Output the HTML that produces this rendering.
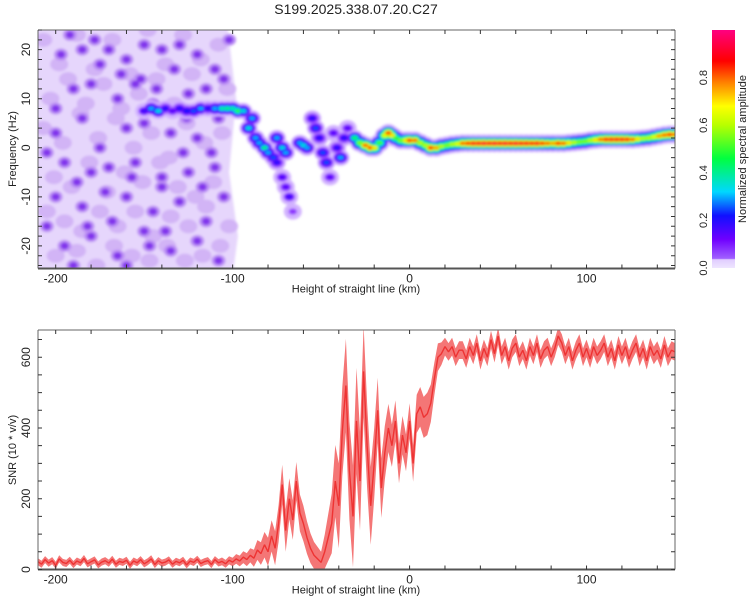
<!DOCTYPE html>
<html><head><meta charset="utf-8">
<style>
body{margin:0;background:#fff;}
svg text{font-family:"Liberation Sans",sans-serif;fill:#222;}
</style></head>
<body>
<svg id="chart" width="750" height="600" viewBox="0 0 750 600">
<defs>
<linearGradient id="cbar" x1="0" y1="1" x2="0" y2="0">
<stop offset="0" stop-color="#efe6ff"/><stop offset="0.035" stop-color="#e0ccff"/><stop offset="0.04" stop-color="#a060ff"/>
<stop offset="0.12" stop-color="#7000ff"/><stop offset="0.22" stop-color="#1010ff"/><stop offset="0.32" stop-color="#00d8ff"/>
<stop offset="0.46" stop-color="#00ff40"/><stop offset="0.6" stop-color="#b8ff00"/><stop offset="0.68" stop-color="#ffff00"/>
<stop offset="0.78" stop-color="#ff8000"/><stop offset="0.87" stop-color="#ff0000"/><stop offset="1" stop-color="#ff0080"/>
</linearGradient>
<clipPath id="clipTop"><rect x="38" y="30" width="637" height="239"/></clipPath>
<clipPath id="clipBot"><rect x="38" y="330" width="637" height="240"/></clipPath>
<filter id="soft" x="-5%" y="-5%" width="110%" height="110%"><feGaussianBlur stdDeviation="1.2"/></filter>
</defs>
<text x="356" y="14" font-size="14" text-anchor="middle">S199.2025.338.07.20.C27</text>
<g id="top"></g>
<g id="bot"></g>
<g id="cb">
<rect x="712" y="30" width="23" height="238" fill="url(#cbar)"/>
<text transform="translate(746,149) rotate(-90)" font-size="11" text-anchor="middle">Normalized spectral amplitude</text>
</g>
</svg>
<script>
// ---- data ----
const kmMin=-210, kmMax=150;
const freqMin=-24.6, freqMax=24;
const snrMin=0, snrMax=677;
const xTicks=[-200,-100,0,100];
const freqTicks=[-20,-10,0,10,20];
const snrTicks=[0,200,400,600];
const cbTicks=[0.0,0.2,0.4,0.6,0.8];
const snrStartKm=-210, snrStepKm=2;
const snrValues=[22,15,28,18,25,12,30,20,17,26,
14,24,19,31,16,22,27,13,21,25,
18,29,15,23,20,26,12,24,19,28,
16,22,30,14,25,18,21,27,15,23,
19,26,13,24,20,29,17,22,25,14,
28,19,23,16,26,21,30,24,35,28,
40,32,55,45,70,50,95,60,130,240,
110,200,140,250,160,130,90,60,40,30,
20,50,90,130,250,180,390,520,280,150,
420,250,560,350,180,300,450,230,330,400,
350,420,300,380,330,420,300,440,460,430,
440,470,540,600,610,630,615,630,600,620,
620,595,630,605,640,590,625,600,650,610,
660,605,630,590,625,640,600,620,590,630,
605,640,595,620,630,600,625,660,640,605,
630,590,620,640,600,625,595,630,605,620,
640,600,625,590,635,605,630,595,620,640,
600,625,590,630,605,620,595,635,600,620,615];
// noise envelope half-width per 10 km bin (from -210)
const spreadStartKm=-210, spreadStepKm=10;
const snrSpread=[10,10,10,10,10,10,10,10,10,10,10,12,20,40,60,50,30,120,150,100,60,50,60,25,25,25,25,25,25,25,25,25,25,25,25,25,25];
const ridgeKm=[-150,-146,-142,-138,-134,-130,-126,-122,-118,-114,-110,-106,-103,-100,-97,-94,-91,-89,-87,-85,-82,-80,-77,-75,-72,-70,-68,-66,-75,-72,-70,-62,-60,-58,-55,-53,-51,-49,-47,-45,-43,-41,-39,-37,-35,
-31,-28,-25,-22,-20,-17,-14,-12,-10,-8,-5,-2,0,3,6,9,12,15,18,
21,24,27,30,33,36,39,42,45,48,51,54,57,60,63,66,69,72,75,78,81,84,87,90,93,96,99,102,105,108,111,114,117,120,123,126,129,132,135,138,141,144,147,150];
const ridgeHz=[7.5,8,7.5,8,7.5,8,7.5,7.5,8,8,8,8,8,8,7.5,7.5,4,6,2,1,0,-1,-2,-3,-6,-8,-10,-13,2,0,-1,1,0.5,0,6,4,2,-1,-3,-6,3,0,-2,2,4,
2,1,0.5,0,0,1,2.5,3,2.5,2,1.5,1.5,1.5,1.5,1,0.5,0,0,0.3,
0.5,0.7,0.8,0.9,0.9,0.9,0.9,0.9,0.9,0.9,0.9,0.9,0.9,0.9,0.9,0.9,0.9,0.9,0.9,0.9,0.9,0.9,0.9,1,1.1,1.2,1.3,1.5,1.6,1.7,1.7,1.7,1.7,1.7,1.7,1.7,1.8,1.9,2,2.2,2.4,2.6,2.7,2.7];
const ridgeAmp=[0.18,0.3,0.35,0.2,0.15,0.2,0.22,0.25,0.3,0.2,0.3,0.4,0.42,0.4,0.48,0.35,0.35,0.3,0.3,0.3,0.42,0.3,0.25,0.2,0.16,0.15,0.18,0.1,0.3,0.35,0.3,0.3,0.35,0.3,0.2,0.25,0.2,0.25,0.25,0.15,0.15,0.2,0.3,0.2,0.15,
0.45,0.55,0.8,0.85,0.7,0.5,0.65,0.85,0.7,0.5,0.55,0.7,0.85,0.8,0.6,0.6,0.85,0.75,0.6,
0.55,0.6,0.65,0.8,0.85,0.9,0.9,0.92,0.9,0.92,0.9,0.92,0.9,0.92,0.9,0.9,0.88,0.9,0.85,0.8,0.75,0.85,0.8,0.7,0.6,0.55,0.55,0.6,0.7,0.8,0.88,0.9,0.9,0.9,0.88,0.8,0.7,0.6,0.6,0.65,0.75,0.8,0.85,0.8];
// dark noise blobs (km, Hz)
const noiseKm=[-197,-185,-175,-170,-160,-150,-140,-130,-120,-110,-190,-180,-165,-145,-125,-115,-105,-200,-185,-160,-150,-135,-120,-108,-205,-195,-180,-170,-155,-140,-125,-110,-200,-185,-172,-160,-145,-130,-115,-105,-195,-180,-165,-150,-135,-120,-108,-205,-190,-160,-140,-175,-128,-200,-155,-133,-188,-117,-147,-168,-137,-102,-192,-178,-163,-152,-143,-126,-112,-182,-157,-138];
const noiseHz=[19,20,17,20,18,21,20,21,19,16,12,13,10,9,11,12,14,8,6,4,5,3,2,6,-1,-3,-5,-4,-3,-6,-5,-4,-10,-12,-9,-10,-13,-11,-15,-10,-20,-18,-22,-17,-21,-19,-23,-16,-24,-24,-8,0,-1,3,13,16,-7,-8,-20,-15,8,22,23,22,15,14,12,6,-1,-16,-6,-17];
// mid-tone noise patches (km, Hz)
const patchKm=[-207,-198,-188,-178,-168,-158,-148,-138,-128,-118,-108,-203,-193,-183,-173,-163,-153,-143,-133,-123,-113,-103,-207,-196,-186,-176,-166,-156,-146,-136,-126,-116,-106,-201,-191,-181,-171,-161,-151,-141,-131,-121,-111,-205,-195,-185,-175,-165,-155,-145,-135,-125,-115,-102,-200,-188,-177,-167,-157,-147,-137,-127,-117,-107];
const patchHz=[22,17,23,16,22,15,24,17,23,18,21,10,14,9,13,8,11,14,9,15,8,12,4,1,7,2,6,0,3,-2,5,1,3,-6,-8,-3,-9,-5,-7,-3,-8,-10,-7,-13,-15,-17,-13,-16,-13,-18,-14,-16,-12,-16,-22,-21,-24,-20,-22,-23,-20,-23,-22,-20];
{
const NS="http://www.w3.org/2000/svg";
const L=38,R=675;
const xs=k=>L+(k-kmMin)/(kmMax-kmMin)*(R-L);
const T1=30,B1=268.5;
const yf=f=>B1-(f-freqMin)/(freqMax-freqMin)*(B1-T1);
const T2=330,B2=569.5;
const ysnr=v=>B2-(v-snrMin)/(snrMax-snrMin)*(B2-T2);
const stops=[[0,[239,230,255]],[0.04,[200,160,255]],[0.12,[112,0,255]],[0.22,[16,16,255]],[0.32,[0,216,255]],[0.46,[0,255,64]],[0.6,[184,255,0]],[0.68,[255,255,0]],[0.78,[255,128,0]],[0.87,[255,0,0]],[1,[255,0,128]]];
function cmap(a){a=Math.max(0,Math.min(1,a));for(let i=1;i<stops.length;i++){if(a<=stops[i][0]){const[t0,c0]=stops[i-1],[t1,c1]=stops[i];const u=(a-t0)/(t1-t0);return`rgb(${c0.map((c,j)=>Math.round(c+(c1[j]-c)*u)).join(",")})`;}}return"rgb(255,0,128)";}
function el(tag,attrs,parent){const e=document.createElementNS(NS,tag);for(const k in attrs)e.setAttribute(k,attrs[k]);parent.appendChild(e);return e;}
const topG=document.getElementById("top"),botG=document.getElementById("bot"),cbG=document.getElementById("cb");
const clip1=el("g",{"clip-path":"url(#clipTop)"},topG);


const plot1=el("g",{filter:"url(#soft)"},clip1);


const field=el("path",{d:`M${xs(-212)},${yf(25)} L${xs(-103)},${yf(25)} L${xs(-98)},${yf(10)} L${xs(-102)},${yf(-5)} L${xs(-97)},${yf(-18)} L${xs(-100)},${yf(-26)} L${xs(-212)},${yf(-26)}Z`,fill:"#e6d6fc"},plot1);


for(let i=0;i<patchKm.length;i++){
  const c=el("ellipse",{cx:xs(patchKm[i]),cy:yf(patchHz[i]),rx:9,ry:7,fill:"#d2b4f6"},plot1);
  
  
}
for(let i=0;i<noiseKm.length;i++){
  const c=el("ellipse",{cx:xs(noiseKm[i]),cy:yf(noiseHz[i]),rx:7,ry:6,fill:"#bb8df4"},plot1);
  
  
}
for(let i=0;i<noiseKm.length;i++){
  const c=el("ellipse",{cx:xs(noiseKm[i]),cy:yf(noiseHz[i]),rx:4,ry:3.5,fill:"#8236ec"},plot1);
  
  
}
const layerF=[0.12,0.3,0.45,0.65,0.82,1.0];
const layerRx=[10,8,6.5,5,4,3];
const layerRy=[9,6.5,5,3.8,2.6,1.7];
for(let l=0;l<layerF.length;l++){
  for(let i=0;i<ridgeKm.length;i++){
    const a=ridgeAmp[i]*layerF[l];
    if(l>0&&a<0.06)continue;
    const s=ridgeAmp[i]<0.5?0.9:1;
    const e=el("ellipse",{cx:xs(ridgeKm[i]),cy:yf(ridgeHz[i]),rx:layerRx[l]*s,ry:layerRy[l]*s,fill:cmap(l===0?0.03:a)},plot1);
    
    
  }
}
function frame(g,T,B,yTicks,ysc,minorStep,ymin,ymax,ylabel,ylabY,namePrefix){
  const ax=el("path",{d:`M${L},${T} L${R},${T} M${L},${T} L${L},${B} M${R},${T} L${R},${B}`,stroke:"#666","stroke-width":1,fill:"none"},g);
  
  
  const xb=el("line",{x1:L,y1:B,x2:R,y2:B,stroke:"#555","stroke-width":2},g);
  
  
  for(let k=-200;k<=140;k+=20){
    const t=el("path",{d:`M${xs(k)},${B} v-4 M${xs(k)},${T} v4`,stroke:"#333","stroke-width":1},g);
    
    
  }
  for(const k of xTicks){
    const t=el("text",{x:xs(k),y:B+14,"font-size":12,"text-anchor":"middle"},g);t.textContent=k;
    
    
  }
  for(let v=Math.ceil(ymin/minorStep)*minorStep;v<=ymax;v+=minorStep){
    const t=el("path",{d:`M${L},${ysc(v)} h4 M${R},${ysc(v)} h-4`,stroke:"#333","stroke-width":1},g);
    
    
  }
  for(const v of yTicks){
    const t=el("text",{transform:`translate(${L-8},${ysc(v)}) rotate(-90)`,"font-size":12,"text-anchor":"middle"},g);t.textContent=v;
    
    
  }
  const xl=el("text",{x:356,y:B+24,"font-size":11,"text-anchor":"middle"},g);xl.textContent="Height of straight line (km)";
  
  
  const yl=el("text",{transform:`translate(16,${ylabY}) rotate(-90)`,"font-size":11,"text-anchor":"middle"},g);yl.textContent=ylabel;
  
  
}
frame(topG,T1,B1,freqTicks,yf,2,freqMin,freqMax,"Frequency (Hz)",149,"spectrogram");
const plot2=el("g",{"clip-path":"url(#clipBot)"},botG);


const spreadAt=k=>{const f=(k-spreadStartKm)/spreadStepKm;const i=Math.min(snrSpread.length-2,Math.max(0,Math.floor(f)));const u=Math.min(1,Math.max(0,f-i));return snrSpread[i]*(1-u)+snrSpread[i+1]*u;};
let up="",dn="";
snrValues.forEach((v,i)=>{const k=snrStartKm+i*snrStepKm;up+=(i?"L":"M")+xs(k).toFixed(1)+","+ysnr(v+spreadAt(k)).toFixed(1);});
for(let i=snrValues.length-1;i>=0;i--){const k=snrStartKm+i*snrStepKm;dn+="L"+xs(k).toFixed(1)+","+ysnr(Math.max(0,snrValues[i]-spreadAt(k))).toFixed(1);}
const band=el("path",{d:up+dn+"Z",fill:"#f04848","fill-opacity":0.75,stroke:"none"},plot2);


let d="";
snrValues.forEach((v,i)=>{d+=(i?"L":"M")+xs(snrStartKm+i*snrStepKm).toFixed(1)+","+ysnr(v).toFixed(1);});
const line=el("path",{d:d,stroke:"#ee3333","stroke-width":1.4,fill:"none","stroke-linejoin":"bevel"},plot2);


frame(botG,T2,B2,snrTicks,ysnr,50,snrMin,snrMax,"SNR (10 * v/v)",450,"snr");
const cbY=v=>268-v*238;
for(const v of cbTicks){
  const t=el("text",{transform:`translate(707,${cbY(v)}) rotate(-90)`,"font-size":11,"text-anchor":"middle"},cbG);t.textContent=v.toFixed(1);
  
  
}
}
</script>
</body></html>
